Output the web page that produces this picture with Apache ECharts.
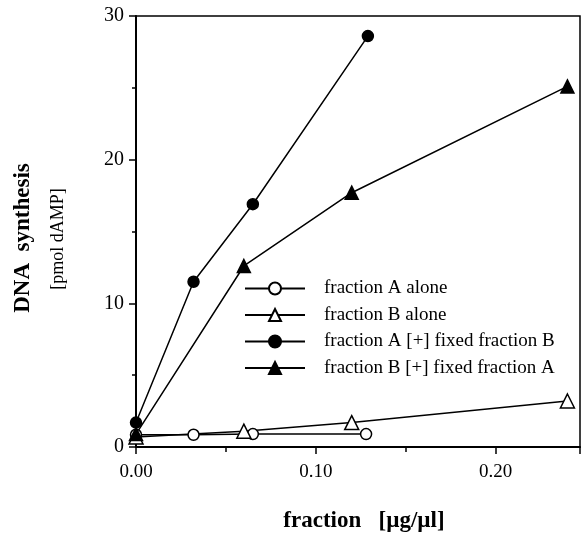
<!DOCTYPE html>
<html>
<head>
<meta charset="utf-8">
<script src="https://cdn.jsdelivr.net/npm/echarts@6/dist/echarts.min.js"></script>
<style>
  html, body { margin: 0; padding: 0; background: #fff; }
  #chart { width: 582px; height: 534px; }
</style>
</head>
<body>
<div id="chart"></div>
<script>
// data: [fraction (ug/ul), pmol dAMP]
var aAlone = [[0, 0.85], [0.032, 0.85], [0.065, 0.9], [0.128, 0.9]];
var bAlone = [[0, 0.7], [0.06, 1.1], [0.12, 1.7], [0.24, 3.2]];
var aPlusB = [[0, 1.7], [0.032, 11.5], [0.065, 16.9], [0.129, 28.6]];
var bPlusA = [[0, 0.9], [0.06, 12.6], [0.12, 17.7], [0.24, 25.1]];
var names = ['fraction A alone', 'fraction B alone', 'fraction A [+] fixed fraction B', 'fraction B [+] fixed fraction A'];

var serif = 'Liberation Serif';
var chart = echarts.init(document.getElementById('chart'));

function mkSeries(name, data, symbol, size, filled) {
    return {
        name: name,
        type: 'line',
        data: data,
        symbol: symbol,
        symbolSize: size,
        showAllSymbol: true,
        lineStyle: { color: '#000', width: 1.5 },
        itemStyle: {
            color: filled ? '#000' : '#fff',
            borderColor: '#000',
            borderWidth: 1.5
        },
        emphasis: { disabled: true },
        animation: false
    };
}

var option = {
    backgroundColor: '#fff',
    grid: {
        left: 136, right: 2, top: 16, bottom: 87,
        show: true, borderColor: '#000', borderWidth: 1.5
    },
    xAxis: {
        type: 'value',
        min: 0, max: 0.247, interval: 0.1,
        axisLine: { show: true, lineStyle: { color: '#000', width: 2 } },
        axisTick: { show: true, length: 7, lineStyle: { color: '#000', width: 1.5 } },
        minorTick: { show: true, splitNumber: 2, length: 5, lineStyle: { color: '#000', width: 1.5 } },
        splitLine: { show: false },
        axisLabel: {
            showMaxLabel: false,
            margin: 16,
            color: '#000', fontFamily: serif, fontSize: 19,
            formatter: function (v) { return v.toFixed(2); }
        }
    },
    yAxis: {
        type: 'value',
        min: 0, max: 30, interval: 10,
        axisLine: { show: true, lineStyle: { color: '#000', width: 2 } },
        axisTick: { show: true, length: 7, lineStyle: { color: '#000', width: 1.5 } },
        minorTick: { show: true, splitNumber: 2, length: 4, lineStyle: { color: '#000', width: 1.5 } },
        splitLine: { show: false },
        axisLabel: { margin: 12, color: '#000', fontFamily: serif, fontSize: 20 }
    },
    legend: {
        orient: 'vertical',
        left: 239, top: 274,
        itemWidth: 60, itemHeight: 15, itemGap: 7.5,
        textStyle: { color: '#000', fontFamily: serif, fontSize: 19, lineHeight: 19, padding: [0, 0, 0, 14] },
        selectedMode: false,
        data: names
    },
    graphic: [
        {
            type: 'text',
            rotation: Math.PI / 2,
            x: 23, y: 238,
            style: { text: 'DNA  synthesis', fontFamily: serif, fontSize: 23, fontWeight: 'bold', fill: '#000', align: 'center', verticalAlign: 'middle' }
        },
        {
            type: 'text',
            rotation: Math.PI / 2,
            x: 58, y: 239,
            style: { text: '[pmol dAMP]', fontFamily: serif, fontSize: 18, fill: '#000', align: 'center', verticalAlign: 'middle' }
        },
        {
            type: 'text',
            x: 364, y: 521,
            style: { text: 'fraction   [\u00b5g/\u00b5l]', fontFamily: serif, fontSize: 23, fontWeight: 'bold', fill: '#000', align: 'center', verticalAlign: 'middle' }
        }
    ],
    series: [
        mkSeries(names[0], aAlone, 'circle', 11, false),
        mkSeries(names[1], bAlone, 'triangle', 14, false),
        mkSeries(names[2], aPlusB, 'circle', 11, true),
        mkSeries(names[3], bPlusA, 'triangle', 13, true)
    ]
};

chart.setOption(option);
</script>
</body>
</html>
